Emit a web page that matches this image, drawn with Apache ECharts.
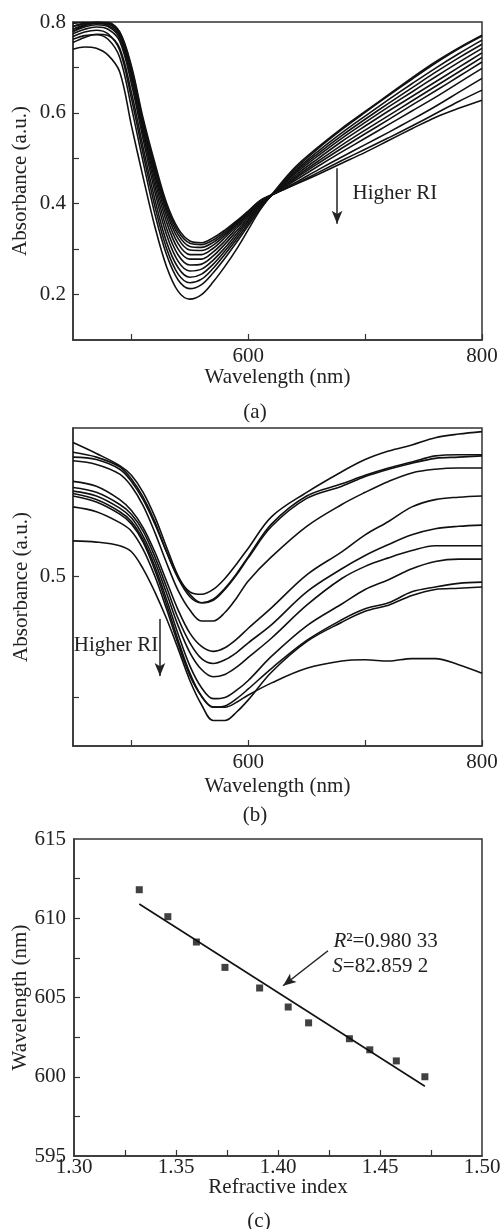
<!DOCTYPE html>
<html><head><meta charset="utf-8">
<script src="https://cdn.jsdelivr.net/npm/echarts@6/dist/echarts.min.js"></script>
<style>html,body{margin:0;padding:0;background:#fff}#c{width:501px;height:1229px}</style>
</head><body><div id="c"></div>
<script>
// ---------- Panel (a) data ----------
const wlA = [450,460,470,480,490,500,510,520,530,540,550,560,570,580,590,600,610,620,640,660,680,700,720,740,760,780,800];
const a0  = [.740,.745,.742,.727,.690,.572,.458,.350,.262,.207,.190,.200,.228,.262,.300,.343,.386,.420,.480,.525,.566,.603,.640,.677,.712,.743,.771];
const a1  = [.762,.770,.772,.762,.722,.612,.492,.378,.288,.232,.213,.222,.248,.280,.315,.352,.389,.419,.476,.522,.563,.601,.638,.674,.709,.741,.769];
const a2  = [.768,.778,.782,.774,.738,.632,.510,.395,.302,.245,.226,.234,.258,.289,.322,.357,.392,.419,.472,.516,.556,.593,.629,.664,.698,.730,.760];
const a3  = [.755,.766,.773,.770,.742,.645,.524,.410,.316,.259,.238,.245,.267,.296,.328,.362,.395,.419,.469,.511,.550,.586,.621,.655,.689,.721,.751];
const a4  = [.774,.784,.789,.784,.758,.664,.542,.427,.332,.273,.252,.256,.276,.303,.334,.366,.397,.419,.466,.506,.544,.579,.613,.646,.679,.711,.742];
const a5  = [.779,.789,.794,.790,.764,.674,.554,.440,.346,.287,.265,.267,.285,.311,.340,.370,.399,.419,.462,.500,.537,.571,.604,.636,.668,.700,.732];
const a6  = [.784,.793,.797,.793,.769,.682,.563,.452,.360,.300,.278,.278,.294,.318,.346,.374,.401,.419,.458,.494,.529,.562,.594,.626,.658,.690,.722];
const a7  = [.790,.797,.799,.796,.772,.689,.570,.462,.372,.312,.288,.288,.302,.325,.351,.377,.402,.419,.455,.489,.522,.554,.585,.617,.648,.680,.712];
const a8  = [.797,.799,.799,.797,.774,.694,.575,.470,.382,.323,.298,.297,.309,.330,.355,.380,.404,.419,.451,.483,.514,.544,.574,.604,.634,.666,.698];
const a9  = [.784,.794,.799,.798,.776,.697,.578,.476,.389,.332,.306,.304,.315,.334,.358,.382,.405,.419,.446,.475,.503,.530,.557,.585,.614,.645,.676];
const a10 = [.790,.797,.799,.799,.777,.699,.582,.483,.396,.339,.313,.310,.320,.338,.360,.383,.406,.419,.443,.469,.495,.520,.545,.571,.598,.625,.650];
const a11 = [.779,.792,.799,.797,.778,.703,.588,.490,.402,.345,.318,.314,.325,.342,.362,.384,.407,.420,.442,.465,.489,.513,.539,.565,.590,.610,.628];

// ---------- Panel (b) data ----------
const wlB = [450,470,490,500,510,520,530,540,550,560,570,580,590,600,620,650,680,700,720,740,760,780,800];
const b0  = [.598,.596,.588,.578,.563,.543,.520,.499,.487,.485,.489,.498,.510,.523,.549,.569,.586,.596,.603,.608,.614,.617,.619];
const b1  = [.602,.598,.590,.580,.565,.545,.520,.498,.483,.478,.481,.490,.502,.516,.543,.566,.576,.583,.589,.594,.599,.600,.600];
const b2  = [.610,.601,.591,.583,.569,.549,.524,.500,.485,.478,.480,.489,.501,.515,.541,.564,.574,.582,.588,.593,.597,.598,.599];
const b3  = [.595,.592,.584,.574,.558,.536,.511,.488,.472,.463,.463,.470,.482,.496,.516,.541,.559,.569,.578,.585,.588,.589,.589];
const b4  = [.578,.574,.563,.554,.540,.520,.496,.472,.453,.442,.438,.441,.448,.457,.474,.501,.520,.534,.545,.557,.563,.565,.566];
const b5  = [.573,.569,.559,.551,.537,.516,.491,.465,.445,.432,.428,.431,.437,.445,.460,.487,.506,.517,.526,.534,.539,.541,.542];
const b6  = [.570,.566,.556,.548,.533,.512,.486,.459,.437,.423,.417,.419,.425,.433,.449,.476,.498,.508,.515,.521,.525,.525,.525];
const b7  = [.568,.563,.553,.545,.530,.508,.481,.452,.426,.408,.399,.400,.406,.414,.434,.459,.477,.489,.497,.506,.512,.514,.514];
const b8  = [.566,.561,.551,.543,.528,.505,.477,.447,.420,.401,.392,.393,.399,.407,.424,.447,.464,.473,.478,.487,.491,.494,.495];
const b9  = [.529,.528,.525,.520,.506,.487,.465,.440,.414,.394,.381,.381,.388,.398,.421,.446,.462,.471,.476,.484,.489,.490,.491];
const b10 = [.557,.553,.544,.537,.522,.500,.473,.444,.418,.401,.392,.392,.396,.402,.412,.424,.430,.431,.430,.432,.432,.427,.420];

// ---------- Panel (c) data ----------
const riVals  = [1.332,1.346,1.360,1.374,1.391,1.405,1.415,1.435,1.445,1.458,1.472];
const peakWl  = [611.8,610.1,608.5,606.9,605.6,604.4,603.4,602.4,601.7,601.0,600.0];
const fitRI   = [1.332,1.472];
const fitWl   = [610.9,599.4];

// ---------- ticks / labels ----------
const tickXAB  = [500,600,700,800];
const labelXAB = [600,800];
const tickYA   = [0.2,0.3,0.4,0.5,0.6,0.7,0.8];
const labelYA  = [0.2,0.4,0.6,0.8];
const tickYB   = [0.4,0.5];
const labelYB  = [0.5];
const tickXC   = [1.325,1.35,1.375,1.4,1.425,1.45,1.475];
const labelXC  = [1.30,1.35,1.40,1.45,1.50];
const tickYC   = [597.5,600,602.5,605,607.5,610,612.5];
const labelYC  = [595,600,605,610,615];

const FONT = '"Liberation Serif","Times New Roman",serif';
const TXT = '#222';
const AX = '#333';

function axisCfg(grid, min, max, ticks, labels, name, nameGap, margin, fmt) {
  return {
    gridIndex: grid, type: 'value', min: min, max: max,
    axisLine: {show: true, lineStyle: {color: AX, width: 1.5}},
    axisTick: {show: true, inside: true, length: 6, customValues: ticks, lineStyle: {color: AX, width: 1.2}},
    axisLabel: {customValues: labels, fontSize: 21, fontFamily: FONT, color: TXT, margin: margin, formatter: fmt, hideOverlap: false},
    splitLine: {show: false},
    name: name, nameLocation: 'middle', nameGap: nameGap, nameMoveOverlap: false,
    nameTextStyle: {fontSize: 21, fontFamily: FONT, color: TXT}
  };
}

function curve(wl, vals, gi) {
  return {
    type: 'line', xAxisIndex: gi, yAxisIndex: gi,
    data: wl.map((w, i) => [w, vals[i]]),
    showSymbol: false, smooth: 0.35, silent: true, animation: false,
    lineStyle: {color: '#111', width: 1.6}, emphasis: {disabled: true}
  };
}

const arrowLine = (from, to) => ({
  symbol: ['none', 'arrow'], symbolSize: [8, 13], silent: true, animation: false,
  label: {show: false}, lineStyle: {color: '#222', width: 1.5, type: 'solid'},
  emphasis: {disabled: true},
  data: [[{coord: from}, {coord: to}]]
});
const textPt = (coord, text, pos) => ({
  coord: coord, symbolSize: 1, itemStyle: {color: 'rgba(0,0,0,0)'},
  label: {show: true, position: pos, distance: 0, formatter: text, fontSize: 21, fontFamily: FONT, color: TXT,
    rich: {i: {fontStyle: 'italic', fontSize: 21, fontFamily: FONT, color: TXT}}}
});

const series = [];
[a0,a1,a2,a3,a4,a5,a6,a7,a8,a9,a10,a11].forEach(v => series.push(curve(wlA, v, 0)));
series[0].markLine = arrowLine([676, 0.478], [676, 0.356]);
series[0].markPoint = {silent: true, animation: false, data: [textPt([689, 0.4225], 'Higher RI', 'right')]};

const bStart = series.length;
[b0,b1,b2,b3,b4,b5,b6,b7,b8,b9,b10].forEach(v => series.push(curve(wlB, v, 1)));
series[bStart].markLine = arrowLine([524.4, 0.4647], [524.4, 0.4176]);
series[bStart].markPoint = {silent: true, animation: false, data: [textPt([523.3, 0.4424], 'Higher RI', 'left')]};

series.push({
  type: 'scatter', xAxisIndex: 2, yAxisIndex: 2, silent: true, animation: false,
  symbol: 'rect', symbolSize: 7, itemStyle: {color: '#111'},
  data: riVals.map((r, i) => [r, peakWl[i]])
});
series.push({
  type: 'line', xAxisIndex: 2, yAxisIndex: 2, silent: true, animation: false, showSymbol: false,
  lineStyle: {color: '#111', width: 1.6},
  data: fitRI.map((r, i) => [r, fitWl[i]]),
  markLine: arrowLine([1.4245, 607.95], [1.4025, 605.74]),
  markPoint: {silent: true, animation: false, data: [
    textPt([1.427, 608.52], '{i|R}²=0.980 33', 'right'),
    textPt([1.4265, 606.94], '{i|S}=82.859 2', 'right')
  ]}
});

const gridBase = {show: true, borderColor: AX, borderWidth: 1.5, backgroundColor: 'transparent', containLabel: false, outerBoundsMode: 'none'};
const chart = echarts.init(document.getElementById('c'), null, {renderer: 'canvas'});
chart.setOption({
  backgroundColor: '#fff',
  animation: false,
  textStyle: {fontFamily: FONT},
  grid: [
    Object.assign({left: 73, top: 22, width: 409, height: 318}, gridBase),
    Object.assign({left: 73, top: 428, width: 409, height: 318}, gridBase),
    Object.assign({left: 74, top: 839, width: 408, height: 317}, gridBase)
  ],
  xAxis: [
    axisCfg(0, 450, 800, tickXAB, labelXAB, 'Wavelength (nm)', 27, 6, v => String(v)),
    axisCfg(1, 450, 800, tickXAB, labelXAB, 'Wavelength (nm)', 30, 6, v => String(v)),
    axisCfg(2, 1.30, 1.50, tickXC, labelXC, 'Refractive index', 21, 1, v => v.toFixed(2))
  ],
  yAxis: [
    axisCfg(0, 0.1, 0.8, tickYA, labelYA, 'Absorbance (a.u.)', 42, 7, v => v.toFixed(1)),
    axisCfg(1, 0.36, 0.622, tickYB, labelYB, 'Absorbance (a.u.)', 41, 7, v => v.toFixed(1)),
    axisCfg(2, 595, 615, tickYC, labelYC, 'Wavelength (nm)', 43, 8, v => String(Math.round(v)))
  ],
  series: series,
  graphic: [
    {type: 'text', x: 255, y: 412, silent: true, style: {text: '(a)', fontSize: 21, fontFamily: FONT, fill: TXT, align: 'center', verticalAlign: 'middle'}},
    {type: 'text', x: 255, y: 815, silent: true, style: {text: '(b)', fontSize: 21, fontFamily: FONT, fill: TXT, align: 'center', verticalAlign: 'middle'}},
    {type: 'text', x: 259, y: 1221, silent: true, style: {text: '(c)', fontSize: 21, fontFamily: FONT, fill: TXT, align: 'center', verticalAlign: 'middle'}}
  ]
});
</script></body></html>
